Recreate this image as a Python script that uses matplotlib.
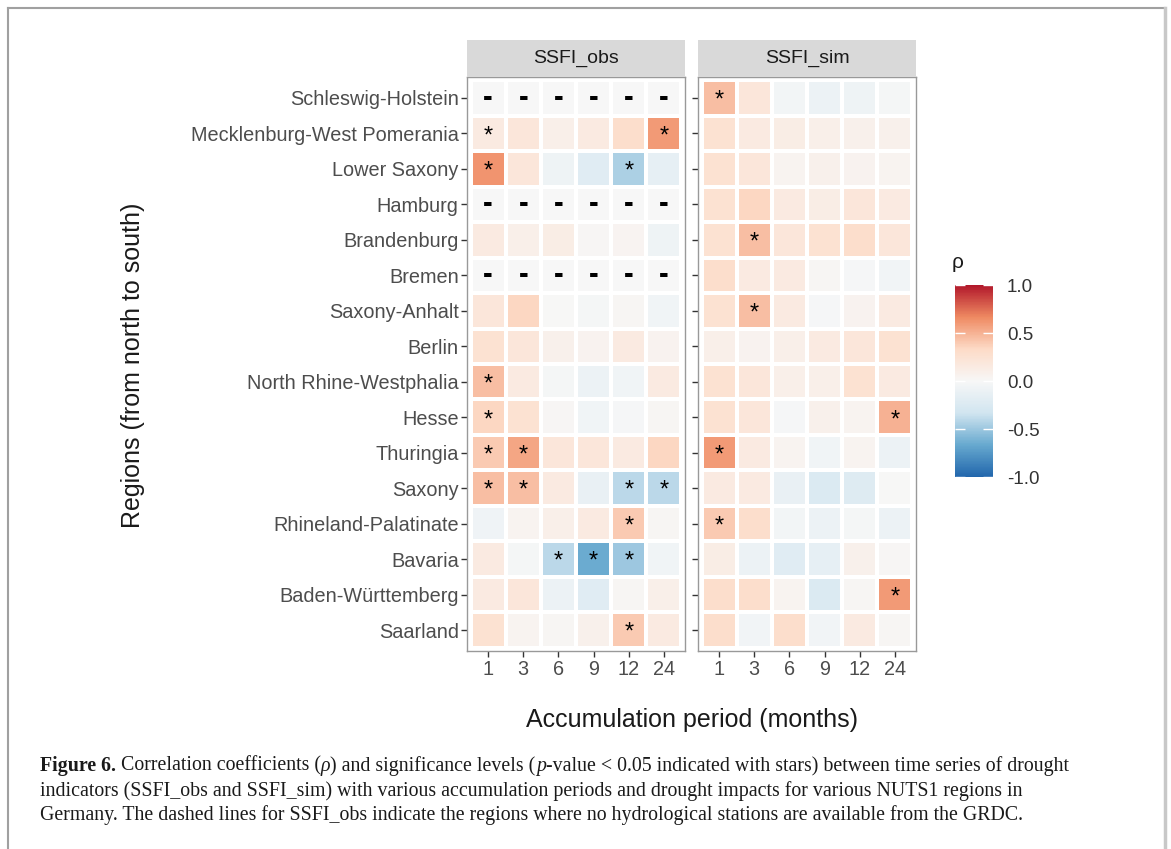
import numpy as np
import matplotlib
matplotlib.use("Agg")
import matplotlib.pyplot as plt
from matplotlib.colors import LinearSegmentedColormap
from matplotlib.lines import Line2D

regions = ["Schleswig-Holstein", "Mecklenburg-West Pomerania", "Lower Saxony", "Hamburg",
           "Brandenburg", "Bremen", "Saxony-Anhalt", "Berlin", "North Rhine-Westphalia",
           "Hesse", "Thuringia", "Saxony", "Rhineland-Palatinate", "Bavaria",
           "Baden-Württemberg", "Saarland"]
periods = ["1", "3", "6", "9", "12", "24"]
nan = np.nan

# correlation coefficients, rows = regions (north -> south), cols = accumulation periods
rho_obs = [
    [nan, nan, nan, nan, nan, nan],
    [0.15, 0.20, 0.10, 0.15, 0.30, 0.60],
    [0.62, 0.20, -0.08, -0.20, -0.45, -0.15],
    [nan, nan, nan, nan, nan, nan],
    [0.15, 0.10, 0.12, 0.02, 0.04, -0.08],
    [nan, nan, nan, nan, nan, nan],
    [0.20, 0.35, 0.00, -0.03, 0.03, -0.06],
    [0.25, 0.20, 0.08, 0.06, 0.15, 0.06],
    [0.45, 0.15, -0.03, -0.10, -0.06, 0.15],
    [0.35, 0.25, 0.02, -0.06, -0.02, 0.03],
    [0.40, 0.55, 0.20, 0.20, 0.15, 0.35],
    [0.45, 0.45, 0.15, -0.12, -0.40, -0.40],
    [-0.07, 0.05, 0.10, 0.15, 0.40, 0.03],
    [0.15, -0.03, -0.40, -0.65, -0.50, -0.06],
    [0.15, 0.20, -0.10, -0.20, 0.03, 0.10],
    [0.25, 0.05, 0.03, 0.08, 0.40, 0.15],
]
rho_sim = [
    [0.45, 0.20, -0.04, -0.10, -0.08, -0.03],
    [0.25, 0.15, 0.12, 0.10, 0.08, 0.08],
    [0.25, 0.20, 0.05, 0.08, 0.06, 0.05],
    [0.25, 0.35, 0.15, 0.12, 0.20, 0.15],
    [0.25, 0.45, 0.20, 0.25, 0.30, 0.20],
    [0.30, 0.15, 0.15, 0.03, -0.02, -0.05],
    [0.25, 0.45, 0.15, -0.02, 0.06, 0.15],
    [0.10, 0.06, 0.10, 0.15, 0.20, 0.25],
    [0.25, 0.20, 0.10, 0.10, 0.25, 0.15],
    [0.25, 0.20, -0.02, 0.08, 0.05, 0.50],
    [0.60, 0.15, 0.05, -0.06, 0.05, -0.10],
    [0.15, 0.15, -0.12, -0.25, -0.22, 0.00],
    [0.40, 0.30, -0.04, -0.10, -0.03, -0.10],
    [0.12, -0.10, -0.20, -0.15, 0.08, 0.02],
    [0.30, 0.30, 0.05, -0.25, 0.03, 0.60],
    [0.30, -0.05, 0.30, -0.05, 0.15, 0.03],
]
# significance (p < 0.05)
sig_obs = [
    [0, 0, 0, 0, 0, 0], [1, 0, 0, 0, 0, 1], [1, 0, 0, 0, 1, 0], [0, 0, 0, 0, 0, 0],
    [0, 0, 0, 0, 0, 0], [0, 0, 0, 0, 0, 0], [0, 0, 0, 0, 0, 0], [0, 0, 0, 0, 0, 0],
    [1, 0, 0, 0, 0, 0], [1, 0, 0, 0, 0, 0], [1, 1, 0, 0, 0, 0], [1, 1, 0, 0, 1, 1],
    [0, 0, 0, 0, 1, 0], [0, 0, 1, 1, 1, 0], [0, 0, 0, 0, 0, 0], [0, 0, 0, 0, 1, 0],
]
sig_sim = [
    [1, 0, 0, 0, 0, 0], [0, 0, 0, 0, 0, 0], [0, 0, 0, 0, 0, 0], [0, 0, 0, 0, 0, 0],
    [0, 1, 0, 0, 0, 0], [0, 0, 0, 0, 0, 0], [0, 1, 0, 0, 0, 0], [0, 0, 0, 0, 0, 0],
    [0, 0, 0, 0, 0, 0], [0, 0, 0, 0, 0, 1], [1, 0, 0, 0, 0, 0], [0, 0, 0, 0, 0, 0],
    [1, 0, 0, 0, 0, 0], [0, 0, 0, 0, 0, 0], [0, 0, 0, 0, 0, 1], [0, 0, 0, 0, 0, 0],
]
panels = ["SSFI_obs", "SSFI_sim"]

plt.rcParams['font.family'] = ['Liberation Sans', 'DejaVu Sans']

cmap = LinearSegmentedColormap.from_list(
    "rdbu", ['#2166AC', '#67A9CF', '#D1E5F0', '#F7F7F7', '#FDDBC7', '#EF8A62', '#B2182B'])
cmap.set_bad('#F7F7F7')

W, H = 1171, 849
fig = plt.figure(figsize=(W / 100, H / 100), dpi=100)

def fx(px):
    return px / W

def fy(py):
    return 1 - py / H

panel_left = [467, 698]
panel_w = 218
panel_top, panel_bot = 76.7, 651.3
tick_col = '#4D4D4D'

for k, (name, vals, sig) in enumerate(zip(panels, [rho_obs, rho_sim], [sig_obs, sig_sim])):
    ax = fig.add_axes([fx(panel_left[k]), fy(panel_bot), panel_w / W, (panel_bot - panel_top) / H])
    data = np.ma.masked_invalid(np.array(vals, dtype=float))
    mesh = ax.pcolormesh(np.arange(len(periods) + 1) - 0.5, np.arange(len(regions) + 1) - 0.5,
                         data, cmap=cmap, vmin=-1, vmax=1, edgecolor='white', linewidth=1.6)
    ax.set_xlim(-0.6, len(periods) - 0.4)
    ax.set_ylim(len(regions) - 0.4, -0.6)
    for i in range(len(regions)):
        for j in range(len(periods)):
            if np.isnan(vals[i][j]):
                ax.text(j, i, "-", ha='center', va='center', fontsize=21, fontweight='bold', color='black')
            elif sig[i][j]:
                ax.text(j, i + 0.08, "*", ha='center', va='center', fontsize=17, color='black')
    ax.set_xticks(range(len(periods)))
    ax.set_xticklabels(periods)
    ax.set_yticks(range(len(regions)))
    if k == 0:
        ax.set_yticklabels(regions)
    else:
        ax.set_yticklabels([])
    ax.tick_params(axis='both', length=4, width=1, color='#333333', labelcolor=tick_col,
                   labelsize=14.3, pad=2)
    for sp in ax.spines.values():
        sp.set_color('#999999')
        sp.set_linewidth(1.0)

    # facet strip
    sax = fig.add_axes([fx(panel_left[k]), fy(panel_top), panel_w / W, 36.5 / H])
    sax.set_facecolor('#D9D9D9')
    sax.set_xticks([])
    sax.set_yticks([])
    for sp in sax.spines.values():
        sp.set_visible(False)
    sax.text(0.5, 0.5, name, ha='center', va='center', fontsize=14, color='#1A1A1A',
             transform=sax.transAxes)

fig.text(fx(692), fy(720), "Accumulation period (months)", ha='center', va='center',
         fontsize=18, color='#1A1A1A')
fig.text(fx(133), fy(365), "Regions (from north to south)", ha='center', va='center',
         rotation=90, fontsize=18, color='#1A1A1A')

# colourbar
cax = fig.add_axes([fx(955), fy(477), 38 / W, 192 / H])
cb = fig.colorbar(mesh, cax=cax, ticks=[-1, -0.5, 0, 0.5, 1])
cb.outline.set_visible(False)
cb.ax.set_yticklabels(["-1.0", "-0.5", "0.0", "0.5", "1.0"])
cax.tick_params(axis='y', direction='in', length=7, width=1, color='white', labelcolor='#333333',
                labelsize=13.5, left=True, right=True, labelleft=False, labelright=True, pad=10)
fig.text(fx(952), fy(262), "ρ", ha='left', va='center', fontsize=15, color='#1A1A1A')

# caption
cap_font = ['Liberation Serif', 'DejaVu Serif']
fig.canvas.draw()
renderer = fig.canvas.get_renderer()

def caption_line(pieces, x0, y):
    x = x0
    for txt, kw in pieces:
        t = fig.text(fx(x), fy(y), txt, ha='left', va='center', fontsize=14.3, family=cap_font,
                     color='#1A1A1A', **kw)
        bb = t.get_window_extent(renderer=renderer)
        x += bb.width

caption_line([("Figure 6.", dict(fontweight='bold')),
              (" Correlation coefficients (", {}),
              ("ρ", dict(style='italic')),
              (") and significance levels (", {}),
              ("p", dict(style='italic')),
              ("-value < 0.05 indicated with stars) between time series of drought", {})],
             40, 766)
caption_line([("indicators (SSFI_obs and SSFI_sim) with various accumulation periods and drought impacts for various NUTS1 regions in", {})],
             40, 791)
caption_line([("Germany. The dashed lines for SSFI_obs indicate the regions where no hydrological stations are available from the GRDC.", {})],
             40, 815)

# page frame
frame = dict(color='#A0A0A0', linewidth=1.5, transform=fig.transFigure)
fig.add_artist(Line2D([fx(8), fx(8)], [fy(8), 0], **frame))
fig.add_artist(Line2D([fx(8), fx(1165)], [fy(8), fy(8)], **frame))
fig.add_artist(Line2D([fx(1165), fx(1165)], [fy(8), 0], color='#C8C8C8', linewidth=2.5,
                      transform=fig.transFigure))

fig.savefig("out.png", dpi=100)
